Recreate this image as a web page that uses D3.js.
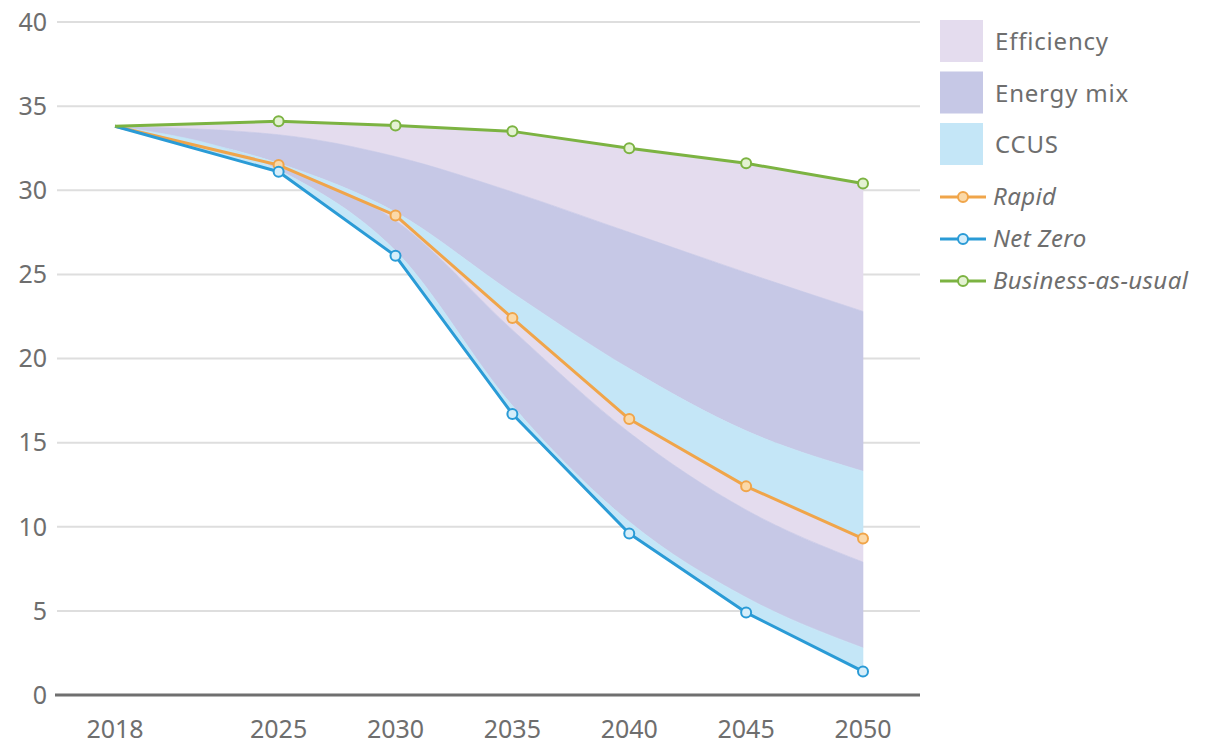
<!DOCTYPE html>
<html>
<head>
<meta charset="utf-8">
<script src="https://cdn.jsdelivr.net/npm/d3@7"></script>
<style>
  html, body { margin: 0; padding: 0; background: #fff; }
  svg { display: block; }
  text { font-family: "Noto Sans", "Liberation Sans", sans-serif; fill: #6e6e6e; }
</style>
</head>
<body>
<svg id="chart" width="1231" height="744"></svg>
<script>
// Emissions pathways, Gt CO2
const years = [2018, 2025, 2030, 2035, 2040, 2045, 2050];
const yTicks = [0, 5, 10, 15, 20, 25, 30, 35, 40];

const businessAsUsual = [33.8, 34.1, 33.85, 33.5, 32.5, 31.6, 30.4];
const rapid           = [33.8, 31.5, 28.5, 22.4, 16.4, 12.4, 9.3];
const netZero         = [33.8, 31.1, 26.1, 16.7, 9.6, 4.9, 1.4];

// Reductions from Business-as-usual down to Rapid
const rapidEfficiency = [0, 0.8, 1.85, 3.6, 5.0, 6.5, 7.6];
const rapidEnergyMix  = [0, 1.7, 3.3, 6.0, 8.1, 9.4, 9.5];
const rapidCcus       = [0, 0.1, 0.2, 1.5, 3.0, 3.3, 4.0];

// Further reductions from Rapid down to Net Zero
const nzEfficiency = [0, 0.1, 0.3, 0.7, 0.8, 1.4, 1.4];
const nzEnergyMix  = [0, 0.2, 1.8, 4.5, 5.3, 5.2, 5.1];
const nzCcus       = [0, 0.1, 0.3, 0.5, 0.7, 0.9, 1.4];

const colors = {
  efficiency: "#e4dcee",
  energyMix: "#c6c8e6",
  ccus: "#c4e6f7",
  rapid: "#f0a54a",
  netZero: "#2a9bd6",
  bau: "#7cb342"
};

const svg = d3.select("#chart");
const x = d3.scaleLinear().domain([2018, 2050]).range([115, 863]);
const y = d3.scaleLinear().domain([0, 40]).range([695, 22]);

// Gridlines
svg.append("g")
  .selectAll("line")
  .data(yTicks.filter(t => t > 0))
  .join("line")
  .attr("x1", 57).attr("x2", 920)
  .attr("y1", d => y(d)).attr("y2", d => y(d))
  .attr("stroke", "#dedede").attr("stroke-width", 2);

// Y tick labels
svg.append("g")
  .selectAll("text")
  .data(yTicks)
  .join("text")
  .attr("x", 47).attr("y", d => y(d))
  .attr("dy", "0.35em")
  .attr("text-anchor", "end")
  .attr("font-size", 25)
  .text(d => d);

// Build boundaries: cumulative subtraction from a top series
function boundaries(top, parts) {
  const out = [top.slice()];
  let cur = top.slice();
  parts.forEach(p => {
    cur = cur.map((v, i) => v - p[i]);
    out.push(cur.slice());
  });
  return out;
}

const upper = boundaries(businessAsUsual, [rapidEfficiency, rapidEnergyMix, rapidCcus]);
const lower = boundaries(rapid, [nzEfficiency, nzEnergyMix, nzCcus]);

const pts = vals => years.map((yr, i) => [yr, vals[i]]);
const edge = curve => d3.line().x(d => x(d[0])).y(d => y(d[1])).curve(curve);

// Band path: top edge and bottom edge each with their own curve
function bandPath(topVals, topCurve, botVals, botCurve) {
  const t = edge(topCurve)(pts(topVals));
  const b = edge(botCurve)(pts(botVals).reverse());
  return t + "L" + b.substring(1) + "Z";
}

const bandColors = [colors.efficiency, colors.energyMix, colors.ccus];
const gBands = svg.append("g");
[upper, lower].forEach(group => {
  for (let k = 0; k < 3; k++) {
    const topCurve = k === 0 ? d3.curveLinear : d3.curveMonotoneX;
    const botCurve = k === 2 ? d3.curveLinear : d3.curveMonotoneX;
    gBands.append("path")
      .attr("d", bandPath(group[k], topCurve, group[k + 1], botCurve))
      .attr("fill", bandColors[k])
      .attr("stroke", bandColors[k])
      .attr("stroke-width", 0.6);
  }
});

// Baseline axis
svg.append("line")
  .attr("x1", 55).attr("x2", 920)
  .attr("y1", y(0)).attr("y2", y(0))
  .attr("stroke", "#6f6f6f").attr("stroke-width", 3);

// X tick labels
svg.append("g")
  .selectAll("text")
  .data(years)
  .join("text")
  .attr("x", d => x(d)).attr("y", 738)
  .attr("text-anchor", "middle")
  .attr("font-size", 25)
  .text(d => d);

// Scenario lines
const scenarios = [
  { name: "Rapid", values: rapid, color: colors.rapid, fill: "#fbd9a8" },
  { name: "Net Zero", values: netZero, color: colors.netZero, fill: "#d6eefa" },
  { name: "Business-as-usual", values: businessAsUsual, color: colors.bau, fill: "#e4f2d2" }
];
const lineGen = d3.line().x(d => x(d[0])).y(d => y(d[1]));
const gLines = svg.append("g");
scenarios.forEach(s => {
  gLines.append("path")
    .attr("d", lineGen(pts(s.values)))
    .attr("fill", "none")
    .attr("stroke", s.color)
    .attr("stroke-width", 3)
    .attr("stroke-linejoin", "round");
});
scenarios.forEach(s => {
  gLines.append("g")
    .selectAll("circle")
    .data(pts(s.values).slice(1))
    .join("circle")
    .attr("cx", d => x(d[0])).attr("cy", d => y(d[1]))
    .attr("r", 5)
    .attr("fill", s.fill)
    .attr("stroke", s.color)
    .attr("stroke-width", 2);
});

// Legend
const legend = svg.append("g");
const swatches = [
  { name: "Efficiency", color: colors.efficiency },
  { name: "Energy mix", color: colors.energyMix },
  { name: "CCUS", color: colors.ccus }
];
swatches.forEach((s, i) => {
  const top = 20 + i * 51.5;
  legend.append("rect")
    .attr("x", 940).attr("y", top)
    .attr("width", 43).attr("height", 42)
    .attr("fill", s.color);
  legend.append("text")
    .attr("x", 995).attr("y", top + 22)
    .attr("dy", "0.35em")
    .attr("font-size", 24)
    .attr("letter-spacing", 0.8)
    .text(s.name);
});
scenarios.forEach((s, i) => {
  const cy = 197 + i * 42;
  legend.append("line")
    .attr("x1", 940).attr("x2", 986)
    .attr("y1", cy).attr("y2", cy)
    .attr("stroke", s.color).attr("stroke-width", 3);
  legend.append("circle")
    .attr("cx", 963).attr("cy", cy).attr("r", 5)
    .attr("fill", s.fill).attr("stroke", s.color).attr("stroke-width", 2);
  legend.append("text")
    .attr("x", 993).attr("y", cy)
    .attr("dy", "0.35em")
    .attr("font-size", 24)
    .attr("font-style", "italic")
    .attr("letter-spacing", 0.4)
    .text(s.name);
});
</script>
</body>
</html>
